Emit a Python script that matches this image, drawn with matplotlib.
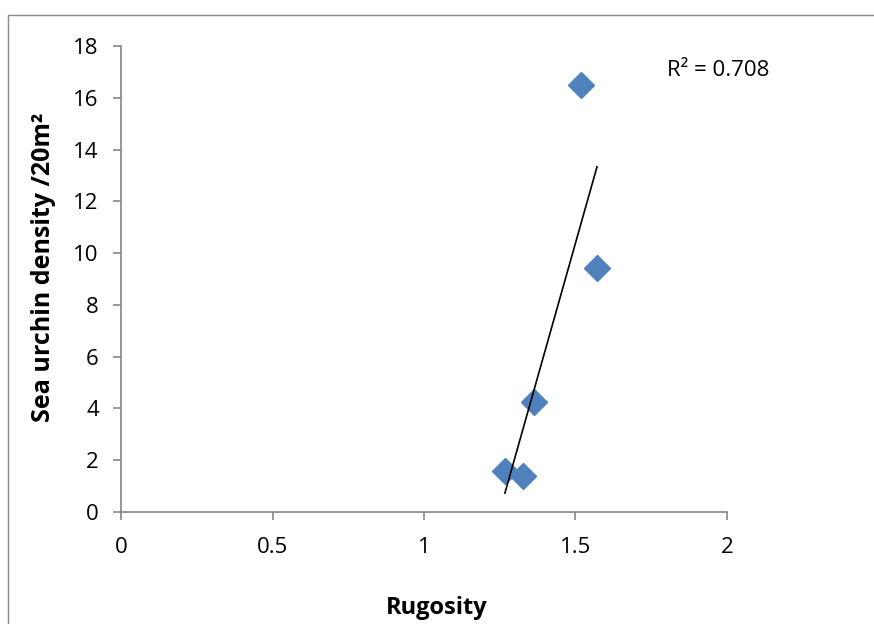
import matplotlib
matplotlib.use("Agg")
import matplotlib.pyplot as plt
from matplotlib.patches import Rectangle
import numpy as np

# data
rugosity = [1.267, 1.327, 1.363, 1.518, 1.571]
density = [1.58, 1.39, 4.25, 16.49, 9.42]
r2_label = "R² = 0.708"

plt.rcParams['font.family'] = ['Open Sans', 'DejaVu Sans']

W, H = 874, 624
fig = plt.figure(figsize=(W / 100, H / 100), dpi=100)
ax = fig.add_axes([121 / W, 1 - 512 / H, (727 - 121) / W, (512 - 46) / H])

# chart frame (Excel style)
fig.patches.append(Rectangle((8 / W, -0.1), 1.1, 1 - 15 / H + 0.1,
                             transform=fig.transFigure, fill=False,
                             edgecolor='#898989', linewidth=1))

ax.plot(rugosity, density, linestyle='none', marker='D', markersize=13,
        color='#4F81BD', markeredgecolor='#4F81BD', zorder=3, clip_on=False)

# linear trendline over the data range
slope, intercept = np.polyfit(rugosity, density, 1)
xs = np.array([min(rugosity), max(rugosity)])
ax.plot(xs, slope * xs + intercept, color='black', linewidth=1.2, zorder=4)

ax.text(667 / W, 1 - 70 / H, r2_label, transform=fig.transFigure,
        fontsize=16, va='center', ha='left')

ax.set_xlim(0, 2)
ax.set_ylim(0, 18)
ax.set_xticks([0, 0.5, 1, 1.5, 2])
ax.set_xticklabels(['0', '0.5', '1', '1.5', '2'])
ax.set_yticks(range(0, 19, 2))

for side in ['top', 'right']:
    ax.spines[side].set_visible(False)
for side in ['left', 'bottom']:
    ax.spines[side].set_color('#868686')
    ax.spines[side].set_linewidth(1.2)
ax.tick_params(direction='out', length=6, width=1.2, color='#868686',
               labelsize=16, labelcolor='black')
ax.tick_params(axis='y', pad=10)
ax.tick_params(axis='x', pad=12)

ax.set_xlabel("Rugosity", fontsize=17, fontweight='bold')
ax.xaxis.set_label_coords(0.521, -0.180)
ax.set_ylabel("Sea urchin density /20m²", fontsize=18, fontweight='bold')
ax.yaxis.set_label_coords(-0.107, 0.525)

fig.savefig("out.png", dpi=100)
